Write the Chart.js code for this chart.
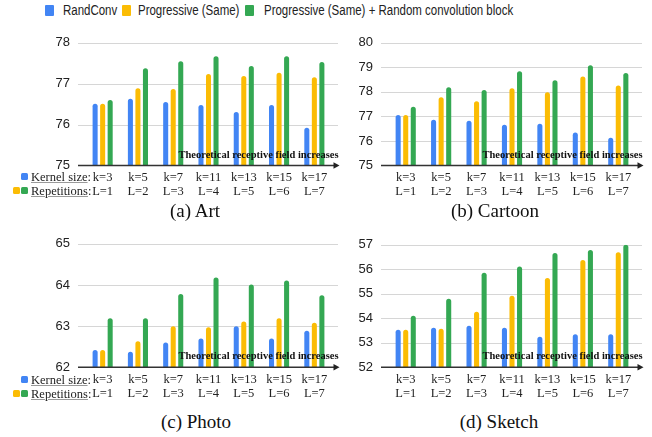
<!DOCTYPE html>
<html>
<head>
<meta charset="utf-8">
<script src="https://cdn.jsdelivr.net/npm/chart.js@4"></script>
<style>
  html, body { margin: 0; padding: 0; background: #fff; }
  body { width: 652px; height: 437px; position: relative; overflow: hidden; }
  canvas { position: absolute; }
  .lg-box { position: absolute; width: 9px; height: 11px; border-radius: 1px; }
  .lg-text { position: absolute; top: 3px; font: 14px "Liberation Sans", Arial, sans-serif; color: #222;
             line-height: 14px; white-space: nowrap; transform: scaleX(0.82); transform-origin: left center; }
  .row-lbl { position: absolute; left: 31px; font: 12.5px "Liberation Serif", "Times New Roman", serif; color: #222;
             line-height: 14px; white-space: nowrap; }
  .row-lbl span { text-decoration: underline; text-decoration-color: #999; }
  .sq { position: absolute; width: 7px; height: 7px; border-radius: 1.5px; }
  .cap { position: absolute; width: 200px; text-align: center; font: 19px "Liberation Serif", "Times New Roman", serif;
         color: #111; line-height: 20px; }
</style>
</head>
<body>
<div class="lg-box" style="left:45px;top:5px;background:#4285f4"></div>
<div class="lg-text" style="left:63px">RandConv</div>
<div class="lg-box" style="left:122px;top:5px;background:#fbbc04"></div>
<div class="lg-text" style="left:138px">Progressive (Same)</div>
<div class="lg-box" style="left:245px;top:5px;background:#34a853"></div>
<div class="lg-text" style="left:264px">Progressive (Same) + Random convolution block</div>

<canvas id="artChart"></canvas>
<canvas id="cartoonChart"></canvas>
<canvas id="photoChart"></canvas>
<canvas id="sketchChart"></canvas>

<div class="sq" style="left:21px;top:173px;background:#4285f4"></div>
<div class="row-lbl" style="top:170px"><span>Kernel size</span>:</div>
<div class="sq" style="left:12.5px;top:187px;background:#fbbc04"></div>
<div class="sq" style="left:21px;top:187px;background:#34a853"></div>
<div class="row-lbl" style="top:184px"><span>Repetitions</span>:</div>

<div class="sq" style="left:21px;top:376px;background:#4285f4"></div>
<div class="row-lbl" style="top:373px"><span>Kernel size</span>:</div>
<div class="sq" style="left:12.5px;top:390px;background:#fbbc04"></div>
<div class="sq" style="left:21px;top:390px;background:#34a853"></div>
<div class="row-lbl" style="top:386.5px"><span>Repetitions</span>:</div>

<div class="cap" style="left:95px;top:201px">(a) Art</div>
<div class="cap" style="left:395px;top:201px">(b) Cartoon</div>
<div class="cap" style="left:96px;top:412px">(c) Photo</div>
<div class="cap" style="left:399px;top:412px">(d) Sketch</div>

<script>
const kernelLabels = ['k=3', 'k=5', 'k=7', 'k=11', 'k=13', 'k=15', 'k=17'];
const repLabels = ['L=1', 'L=2', 'L=3', 'L=4', 'L=5', 'L=6', 'L=7'];
const seriesNames = ['RandConv', 'Progressive (Same)', 'Progressive (Same) + Random convolution block'];

const artRand = [76.51, 76.63, 76.55, 76.48, 76.31, 76.48, 75.92];
const artProg = [76.51, 76.89, 76.87, 77.24, 77.19, 77.27, 77.16];
const artProgRc = [76.60, 77.38, 77.55, 77.67, 77.43, 77.67, 77.53];

const cartoonRand = [77.06, 76.86, 76.82, 76.66, 76.70, 76.34, 76.13];
const cartoonProg = [77.06, 77.78, 77.62, 78.15, 77.99, 78.63, 78.26];
const cartoonProgRc = [77.39, 78.19, 78.08, 78.84, 78.47, 79.09, 78.77];

const photoRand = [62.42, 62.38, 62.60, 62.70, 63.00, 62.70, 62.89];
const photoProg = [62.42, 62.63, 63.00, 62.97, 63.11, 63.19, 63.08];
const photoProgRc = [63.19, 63.19, 63.78, 64.18, 64.01, 64.11, 63.75];

const sketchRand = [53.53, 53.61, 53.70, 53.61, 53.25, 53.35, 53.35];
const sketchProg = [53.53, 53.57, 54.27, 54.92, 55.65, 56.38, 56.70];
const sketchProgRc = [54.10, 54.80, 55.86, 56.11, 56.67, 56.79, 57.00];

const artRange = [75, 78];
const cartoonRange = [75, 80];
const photoRange = [62, 65];
const sketchRange = [52, 57];

const arrowText = 'Theoretical receptive field increases';
const colors = ['#4285f4', '#fbbc04', '#34a853'];

// grid lines reach a bit past the bars, axis line ends in an arrow
const axisDecor = {
  id: 'axisDecor',
  beforeDatasetsDraw(chart) {
    const { ctx, chartArea: a, scales: { y } } = chart;
    ctx.save();
    ctx.strokeStyle = '#d6d6d6';
    ctx.lineWidth = 1;
    y.ticks.forEach(t => {
      if (t.value === y.min) return;
      const py = Math.round(y.getPixelForValue(t.value)) + 0.5;
      ctx.beginPath();
      ctx.moveTo(a.left - 7, py);
      ctx.lineTo(a.right + 6, py);
      ctx.stroke();
    });
    ctx.restore();
  },
  afterDatasetsDraw(chart) {
    const { ctx, chartArea: a, scales: { y } } = chart;
    const py = y.getPixelForValue(y.min);
    const tip = a.right + 7.5;
    ctx.save();
    ctx.strokeStyle = '#333';
    ctx.fillStyle = '#222';
    ctx.lineWidth = 1.5;
    ctx.beginPath();
    ctx.moveTo(a.left - 7, py);
    ctx.lineTo(tip - 4, py);
    ctx.stroke();
    ctx.beginPath();
    ctx.moveTo(tip, py);
    ctx.lineTo(tip - 6, py - 3.2);
    ctx.lineTo(tip - 6, py + 3.2);
    ctx.closePath();
    ctx.fill();

    ctx.font = 'bold 11px "Liberation Serif", "Times New Roman", serif';
    ctx.fillStyle = '#111';
    ctx.textAlign = 'right';
    ctx.textBaseline = 'alphabetic';
    const w = ctx.measureText(arrowText).width;
    ctx.translate(tip - 1, py - 8);
    ctx.scale(160 / w, 1);
    ctx.fillText(arrowText, 0, 0);
    ctx.restore();
  }
};

function makePanel(id, box, plot, range, values) {
  const canvas = document.getElementById(id);
  canvas.width = box.w;
  canvas.height = box.h;
  canvas.style.left = box.x + 'px';
  canvas.style.top = box.y + 'px';
  canvas.style.width = box.w + 'px';
  canvas.style.height = box.h + 'px';

  const yWidth = plot.l - box.x;
  const xHeight = box.y + box.h - plot.b;

  return new Chart(canvas.getContext('2d'), {
    type: 'bar',
    data: {
      labels: kernelLabels.map((k, i) => [k, repLabels[i]]),
      datasets: values.map((d, i) => ({
        label: seriesNames[i],
        data: d,
        backgroundColor: colors[i],
        borderRadius: 3,
        borderSkipped: 'start',
        categoryPercentage: 0.64,
        barPercentage: 0.67
      }))
    },
    options: {
      responsive: false,
      animation: false,
      devicePixelRatio: 1,
      layout: {
        padding: { top: plot.t - box.y, right: box.x + box.w - plot.r, bottom: 0, left: 0 }
      },
      plugins: { legend: { display: false }, tooltip: { enabled: false } },
      scales: {
        x: {
          grid: { display: false, drawTicks: false },
          border: { display: false },
          ticks: {
            autoSkip: false,
            maxRotation: 0,
            padding: 5,
            color: '#222',
            font: { family: '"Liberation Serif", "Times New Roman", serif', size: 12.5, lineHeight: 1.12 }
          },
          afterFit(scale) { scale.height = xHeight; }
        },
        y: {
          min: range[0],
          max: range[1],
          grid: { display: false, drawTicks: false },
          border: { display: false },
          ticks: {
            stepSize: 1,
            padding: 15,
            color: '#222',
            font: { family: '"Liberation Sans", Arial, sans-serif', size: 13 }
          },
          afterFit(scale) { scale.width = yWidth; }
        }
      }
    },
    plugins: [axisDecor]
  });
}

makePanel('artChart', { x: 0, y: 20, w: 345, h: 186 }, { l: 85, t: 30.7, r: 332, b: 165.5 },
  artRange, [artRand, artProg, artProgRc]);
makePanel('cartoonChart', { x: 345, y: 20, w: 307, h: 186 }, { l: 388, t: 30.7, r: 636, b: 165.5 },
  cartoonRange, [cartoonRand, cartoonProg, cartoonProgRc]);
makePanel('photoChart', { x: 0, y: 221, w: 345, h: 187 }, { l: 85, t: 231.7, r: 332, b: 367.3 },
  photoRange, [photoRand, photoProg, photoProgRc]);
makePanel('sketchChart', { x: 345, y: 222, w: 307, h: 186 }, { l: 388, t: 232.7, r: 636, b: 367.3 },
  sketchRange, [sketchRand, sketchProg, sketchProgRc]);
</script>
</body>
</html>
